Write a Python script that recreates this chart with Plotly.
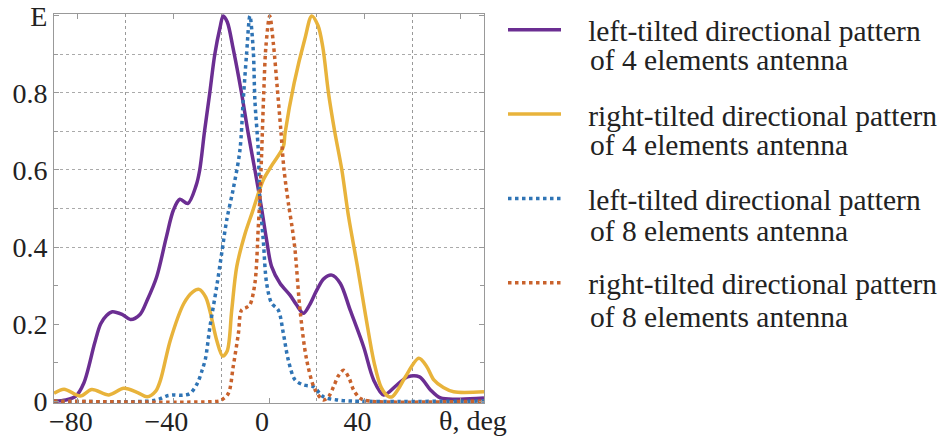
import plotly.graph_objects as go

# ---- data ----
theta_l4 = [-90, -85, -81, -77.5, -73, -70.5, -68, -65.6, -61.5, -58, -54, -51, -47, -43, -40,
            -37.3, -34, -30.5, -29, -27, -24.8, -22.7, -20.5, -19.2, -17.5, -15, -11.5, -8.7,
            -5.9, -3.1, -1, 1.1, 4.6, 8.8, 11.5, 14.4, 17, 20, 23, 26.3, 29.8, 34, 39.6, 43.8,
            48, 53.6, 58, 63, 67.6, 71.8, 80, 90]
e_l4 = [0.0, 0.003, 0.012, 0.047, 0.15, 0.20, 0.222, 0.232, 0.225, 0.212, 0.225, 0.262, 0.323,
        0.425, 0.496, 0.524, 0.513, 0.56, 0.60, 0.70, 0.80, 0.90, 0.97, 1.0, 0.985, 0.915, 0.80,
        0.695, 0.60, 0.50, 0.418, 0.349, 0.306, 0.275, 0.25, 0.228, 0.25, 0.288, 0.318, 0.327,
        0.306, 0.236, 0.141, 0.055, 0.016, 0.042, 0.063, 0.063, 0.029, 0.008, 0.005, 0.008]

theta_r4 = [-90, -85.8, -79, -74.2, -67, -60.8, -55, -51, -47.5, -45.4, -41.3, -35.6, -32, -29.3,
            -26.5, -24.8, -21.9, -19.4, -17.5, -15.6, -13.5, -10, -7, -2.4, 1.5, 6, 6.7, 10.5,
            15, 17.9, 20.5, 22.5, 24.9, 27.5, 30.5, 33.3, 37, 40.5, 44, 47, 50, 51.5, 54, 57.1,
            62.7, 66, 69, 73, 77.3, 90]
e_r4 = [0.02, 0.031, 0.013, 0.03, 0.016, 0.033, 0.022, 0.011, 0.025, 0.055, 0.158, 0.254, 0.283,
        0.29, 0.27, 0.236, 0.158, 0.117, 0.13, 0.236, 0.349, 0.435, 0.49, 0.574, 0.615, 0.66,
        0.695, 0.825, 0.94, 1.0, 0.975, 0.92, 0.80, 0.70, 0.60, 0.479, 0.35, 0.22, 0.10, 0.035,
        0.012, 0.011, 0.03, 0.063, 0.111, 0.09, 0.055, 0.035, 0.024, 0.024]

theta_l8 = [-90, -50, -46, -43, -40, -36, -33, -30, -28, -26.6, -24.8, -21.9, -19.8, -17.7, -15,
            -12.2, -10.8, -9.4, -8, -6.6, -5.9, -4.5, -3.8, -2.4, -1, 1.1, 3.9, 6, 8.1, 10.9,
            14.4, 18.6, 22.8, 28.4, 35, 90]
e_l8 = [0, 0, 0.005, 0.013, 0.016, 0.015, 0.02, 0.046, 0.08, 0.11, 0.19, 0.297, 0.384, 0.47,
        0.55, 0.65, 0.78, 0.9, 1.0, 0.912, 0.78, 0.652, 0.522, 0.418, 0.306, 0.254, 0.236, 0.176,
        0.106, 0.055, 0.042, 0.037, 0.011, 0.003, 0, 0]

theta_r8 = [-90, -21, -19.8, -17, -15, -12.8, -11.5, -9.5, -8, -5.9, -4.5, -3.8, -3.1, -2.2, -1.3,
            0.3, 1.8, 3.5, 5, 6.3, 8.2, 9.7, 10.9, 13, 15.8, 19.3, 22.8, 25, 27, 29, 31.2, 33.5,
            35.4, 38.2, 42, 90]
e_r8 = [0, 0, 0.003, 0.02, 0.089, 0.176, 0.236, 0.243, 0.25, 0.306, 0.45, 0.53, 0.64, 0.80, 0.92,
        1.0, 0.93, 0.81, 0.70, 0.60, 0.51, 0.45, 0.392, 0.236, 0.106, 0.029, 0.003, 0.012, 0.037,
        0.065, 0.08, 0.06, 0.029, 0.007, 0, 0]

name_line1 = ["left-tilted directional pattern", "right-tilted directional pattern",
              "left-tilted directional pattern", "right-tilted directional pattern"]
name_line2 = ["of 4 elements antenna", "of 4 elements antenna",
              "of 8 elements antenna", "of 8 elements antenna"]
colors = ["#6B2E92", "#E8B33B", "#2F74B5", "#C9622C"]
dashes = ["solid", "solid", "dot", "dot"]

x_tickvals = [-80, -40, 0, 40, 80]
x_ticktext = ["\u221280", "\u221240", "0", "40", ""]
y_tickvals = [0, 0.2, 0.4, 0.6, 0.8, 1.0]
y_ticktext = ["0", "0.2", "0.4", "0.6", "0.8", "E"]

series = [(theta_l4, e_l4), (theta_r4, e_r4), (theta_l8, e_l8), (theta_r8, e_r8)]

FONT = "Liberation Serif"
TXT = "#222"
NB = "\u00a0" * 3
LEG_SIZE = 29.5
W, H = 950, 436
PL, PR, PT, PB = 54, 466, 14, 33
pw, ph = W - PL - PR, H - PT - PB

fig = go.Figure()
for i, (tx, ey) in enumerate(series):
    fig.add_trace(go.Scatter(
        x=tx, y=ey, mode="lines", name=NB + name_line1[i], legendgroup=f"g{i}",
        line=dict(color=colors[i], width=3.5, dash=dashes[i], shape="spline", smoothing=0.9),
    ))
# helper trace for the partial horizontal grid axis
fig.add_trace(go.Scatter(x=[None], y=[None], yaxis="y2", showlegend=False, hoverinfo="skip"))

# second lines of the legend labels (pixel positions converted to paper coords)
second_line_y_px = [60, 145, 231, 317]
annotations = []
for i, py in enumerate(second_line_y_px):
    annotations.append(dict(text=name_line2[i], x=(588 - PL) / pw, y=(H - PB - py) / ph,
                            xref="paper", yref="paper", xanchor="left", yanchor="middle",
                            showarrow=False, font=dict(size=LEG_SIZE, family=FONT, color=TXT)))
annotations.append(dict(text="\u03b8, deg", x=(437 - PL) / pw, y=(H - PB - 420) / ph,
                        xref="paper", yref="paper", xanchor="left", yanchor="middle",
                        showarrow=False, font=dict(size=28, family=FONT, color=TXT)))

fig.update_layout(
    width=W, height=H,
    margin=dict(l=PL, r=PR, t=PT, b=PB, autoexpand=False),
    paper_bgcolor="white", plot_bgcolor="white",
    font=dict(family=FONT, color=TXT),
    showlegend=True,
    xaxis=dict(range=[-90, 90], tickvals=x_tickvals, ticktext=x_ticktext, automargin=False,
               ticks="inside", ticklen=5, tickcolor="#999", showline=True, linecolor="#999",
               linewidth=1, mirror="ticks", showgrid=False, zeroline=False,
               tickfont=dict(size=28, family=FONT, color=TXT), ticklabelshift=-7,
               ticklabelstandoff=-7,
               minor=dict(tickvals=[-60, -20, 20, 60], showgrid=True, gridcolor="#999",
                          griddash="dot", gridwidth=1, ticks="")),
    yaxis=dict(range=[-0.005, 1.005], tickvals=y_tickvals, ticktext=y_ticktext, automargin=False,
               ticks="inside", ticklen=5, tickcolor="#999", showline=True, linecolor="#999",
               linewidth=1, mirror="ticks", showgrid=False, zeroline=False,
               tickfont=dict(size=28, family=FONT, color=TXT),
               minor=dict(tickvals=[0.1, 0.3, 0.5, 0.7, 0.9], ticks="inside", ticklen=4,
                          tickcolor="#999", showgrid=False)),
    yaxis2=dict(overlaying="y", range=[-0.005, 1.005], tickvals=[0.4, 0.5, 0.6, 0.7, 0.8, 0.9],
                automargin=False,
                showgrid=True, gridcolor="#aaa", griddash="dot", gridwidth=1,
                showticklabels=False, ticks="", showline=False, zeroline=False),
    legend=dict(xref="container", yref="container", x=503 / W, y=1 - 4 / H,
                xanchor="left", yanchor="top", maxheight=H,
                font=dict(size=LEG_SIZE, family=FONT, color=TXT),
                tracegroupgap=43, itemwidth=53, valign="middle", bgcolor="rgba(0,0,0,0)"),
    annotations=annotations,
)

fig.write_html("out.html", config={"displayModeBar": False},
               post_script="document.body.style.margin='0';document.body.style.overflow='hidden';")
